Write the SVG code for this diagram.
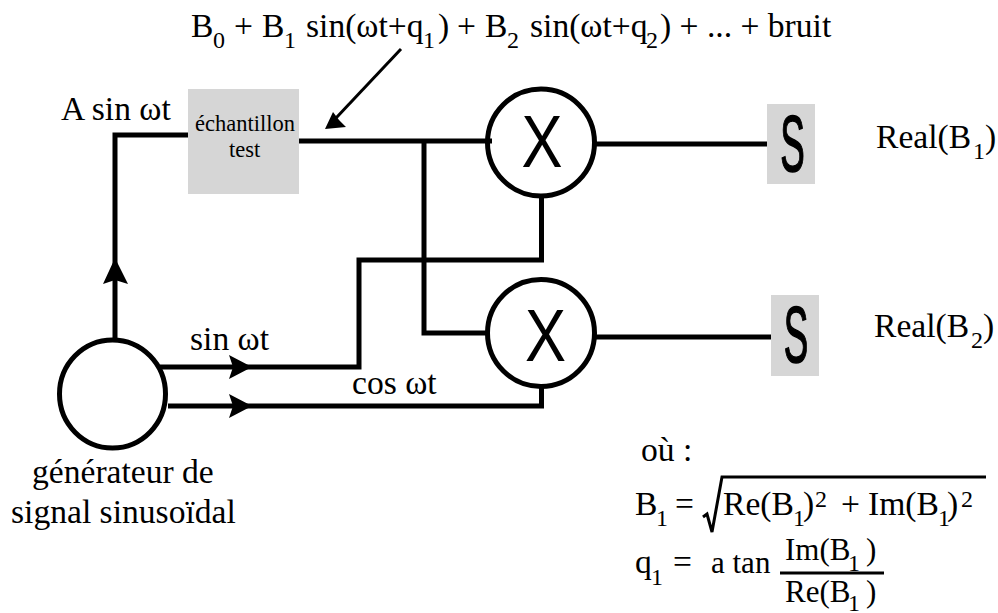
<svg xmlns="http://www.w3.org/2000/svg" width="998" height="613" viewBox="0 0 998 613">
<style>
text{font-family:"Liberation Serif","Times New Roman",serif;font-size:33.600px;fill:#000}
text.s{font-size:24px}
text.e{font-size:22.500px}
text.f{font-size:31px}
.w{fill:none;stroke:#000;stroke-width:5}
.t{fill:none;stroke:#000;stroke-width:3}
.box{fill:#d6d6d6}
.c{fill:none;stroke:#000;stroke-width:5}
.h{fill:#000;stroke:none}
text.x{font-family:"Liberation Sans",Arial,sans-serif;font-size:75px}
text.g{font-family:"Liberation Sans",Arial,sans-serif;font-size:80px;stroke:#000;stroke-width:1.500px}
</style>
<rect width="998" height="613" fill="#fff"/>
<g id="connectors">
<path class="w" d="M188 135H115V340"/>
<path class="w" d="M299 141H492"/>
<path class="w" d="M424 141V333H488"/>
<path class="w" d="M541.500 197V260H359V367H160"/>
<path class="w" d="M168 406H541.500V388"/>
<path class="w" d="M595 144H767"/>
<path class="w" d="M595 337H771"/>
<path class="t" d="M401 49L336 118"/>
<path class="h" d="M325 129L333 112L339 120L346 127Z"/>
<path class="h" d="M115 258L128 284L115 280L103 284Z"/>
<path class="h" d="M252 367L229 355L233 367L229 379Z"/>
<path class="h" d="M252 406L229 394L233 406L229 418Z"/>
</g>
<g id="formula-top">
<text x="191" y="37">B</text><text class="s" x="213" y="48">0</text>
<text x="234" y="37">+</text><text x="262" y="37">B</text><text class="s" x="284" y="48">1</text>
<text x="306" y="37">sin(ωt+q</text><text class="s" x="423" y="48">1</text>
<text x="438" y="37">)</text><text x="457" y="37">+</text>
<text x="485" y="37">B</text><text class="s" x="507" y="48">2</text>
<text x="530" y="37">sin(ωt+q</text><text class="s" x="646" y="48">2</text>
<text x="660" y="37">) + ... + bruit</text>
</g>
<g id="generateur">
<ellipse class="c" cx="112.500" cy="394" rx="53" ry="54"/>
<text x="32" y="483">générateur de</text>
<text x="11" y="523">signal sinusoïdal</text>
</g>
<g id="echantillon">
<rect class="box" x="188" y="89" width="111" height="105"/>
<text class="e" x="195" y="131">échantillon</text>
<text class="e" x="229" y="157">test</text>
</g>
<g id="mult1">
<circle class="c" cx="541" cy="142.500" r="53.500"/>
<text class="x" x="542" y="167" text-anchor="middle" transform="translate(542 0) scale(.82 1) translate(-542 0)">X</text>
</g>
<g id="mult2">
<circle class="c" cx="541" cy="333" r="53.500"/>
<text class="x" x="545.500" y="361" text-anchor="middle" transform="translate(545.500 0) scale(.82 1) translate(-545.500 0)">X</text>
</g>
<g id="somme1">
<rect class="box" x="767" y="104" width="48" height="80"/>
<text class="g" x="792.500" y="171" text-anchor="middle" transform="translate(792.500 0) scale(.46 1) translate(-792.500 0)">S</text>
</g>
<g id="somme2">
<rect class="box" x="771" y="295" width="48" height="81"/>
<text class="g" x="796" y="362" text-anchor="middle" transform="translate(796 0) scale(.46 1) translate(-796 0)">S</text>
</g>
<g id="labels">
<text x="61" y="120">A sin ωt</text>
<text x="190" y="350">sin ωt</text>
<text x="352" y="394">cos ωt</text>
<text x="876" y="148">Real(B</text><text class="s" x="973" y="159">1</text><text x="985" y="148">)</text>
<text x="874" y="337">Real(B</text><text class="s" x="971" y="348">2</text><text x="983" y="337">)</text>
</g>
<g id="formules">
<text x="641" y="461">où :</text>
<text x="635" y="515">B</text><text class="s" x="656" y="526">1</text><text x="675" y="515">=</text>
<path class="t" d="M703 517L707 514L712 532L722 477H986"/>
<text x="723" y="515">Re(B</text><text class="s" x="793" y="526">1</text><text x="803" y="515">)</text><text class="s" x="815" y="507">2</text>
<text x="841" y="515">+</text>
<text x="868" y="515">Im(B</text><text class="s" x="938" y="526">1</text><text x="947" y="515">)</text><text class="s" x="961" y="507">2</text>
<text x="635" y="573">q</text><text class="s" x="651" y="585">1</text><text x="673" y="573">=</text>
<text class="f" x="711" y="573">a tan</text>
<path class="t" d="M780 573H884"/>
<text class="f" x="785" y="560">Im(B</text><text class="s" x="848" y="571">1</text><text class="f" x="866" y="560">)</text>
<text class="f" x="785" y="602">Re(B</text><text class="s" x="848" y="611">1</text><text class="f" x="866" y="602">)</text>
</g>
</svg>
